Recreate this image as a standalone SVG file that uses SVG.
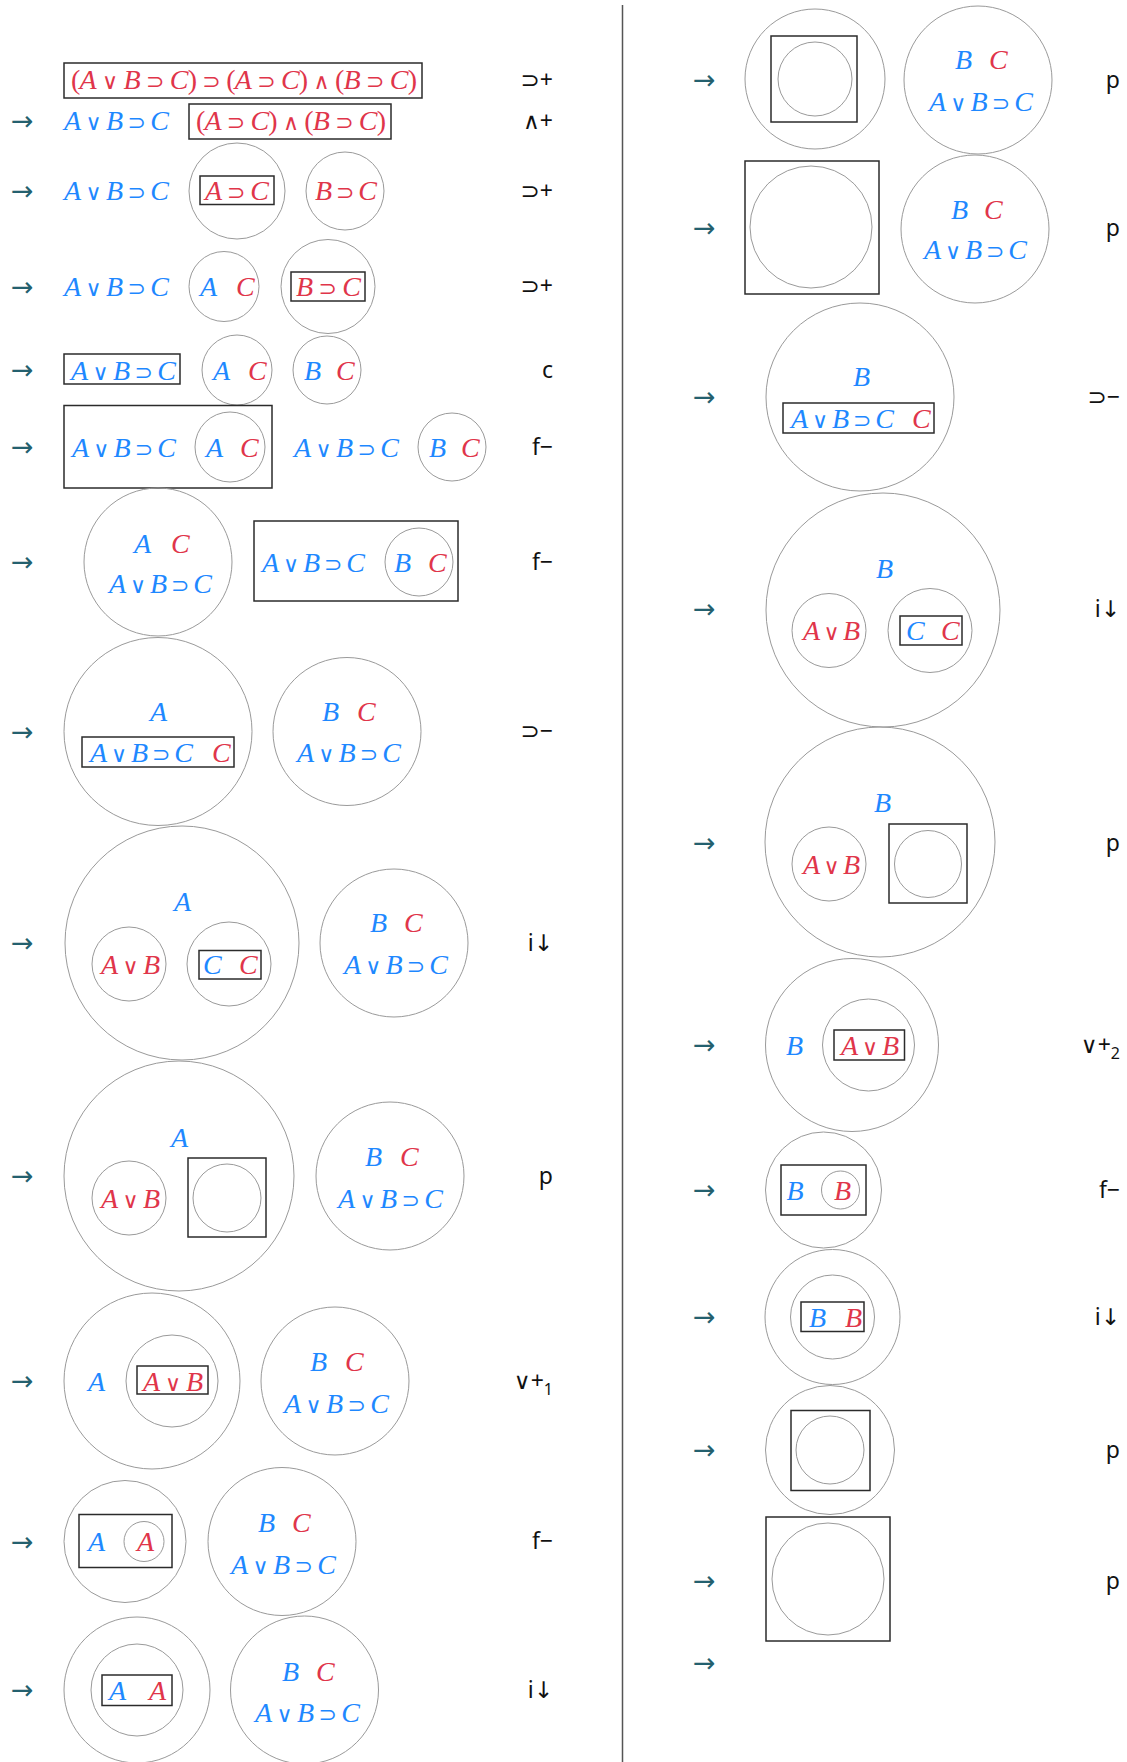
<svg xmlns="http://www.w3.org/2000/svg" width="1127" height="1762" viewBox="0 0 1127 1762">
<style>
.m{font-family:"Liberation Serif","DejaVu Serif",serif;font-style:italic;font-size:28px}
.o{font-family:"DejaVu Sans",sans-serif;font-style:normal;font-size:22px}
.u{font-style:normal}
.b{fill:#1E88FF}
.r{fill:#E0354A}
.c{fill:none;stroke:#9a9a9a;stroke-width:1}
.x{fill:none;stroke:#2b2b2b;stroke-width:1.5}
.ar{font-family:"DejaVu Sans",sans-serif;font-size:27px;fill:#24606e}
.lb{font-family:"Noto Sans","DejaVu Sans",sans-serif;font-size:23px;fill:#111}
.sub{font-size:16px}
</style>
<rect width="1127" height="1762" fill="#fff"/>
<g id="connectors">
<line x1="622.5" y1="5" x2="622.5" y2="1762" stroke="#555" stroke-width="1.5"/>
<g id="arrows">
<text class="ar" x="11" y="130">→</text>
<text class="ar" x="11" y="200">→</text>
<text class="ar" x="11" y="295.5">→</text>
<text class="ar" x="11" y="379">→</text>
<text class="ar" x="11" y="456">→</text>
<text class="ar" x="11" y="571">→</text>
<text class="ar" x="11" y="740.5">→</text>
<text class="ar" x="11" y="952">→</text>
<text class="ar" x="11" y="1185">→</text>
<text class="ar" x="11" y="1390">→</text>
<text class="ar" x="11" y="1550.5">→</text>
<text class="ar" x="11" y="1699">→</text>
<text class="ar" x="693" y="89">→</text>
<text class="ar" x="693" y="237">→</text>
<text class="ar" x="693" y="406">→</text>
<text class="ar" x="693" y="618">→</text>
<text class="ar" x="693" y="852">→</text>
<text class="ar" x="693" y="1054">→</text>
<text class="ar" x="693" y="1199">→</text>
<text class="ar" x="693" y="1326">→</text>
<text class="ar" x="693" y="1459">→</text>
<text class="ar" x="693" y="1590">→</text>
<text class="ar" x="693" y="1672">→</text>
</g>
</g>

<g id="labels">
<text class="lb" x="553" y="88" text-anchor="end">⊃+</text>
<text class="lb" x="553" y="129" text-anchor="end">∧+</text>
<text class="lb" x="553" y="199" text-anchor="end">⊃+</text>
<text class="lb" x="553" y="294" text-anchor="end">⊃+</text>
<text class="lb" x="553" y="378" text-anchor="end">c</text>
<text class="lb" x="553" y="455" text-anchor="end">f−</text>
<text class="lb" x="553" y="570" text-anchor="end">f−</text>
<text class="lb" x="553" y="739" text-anchor="end">⊃−</text>
<text class="lb" x="553" y="951" text-anchor="end">i↓</text>
<text class="lb" x="553" y="1184" text-anchor="end">p</text>
<text class="lb" x="553" y="1389" text-anchor="end">∨+<tspan class="sub" dy="6">1</tspan></text>
<text class="lb" x="553" y="1549" text-anchor="end">f−</text>
<text class="lb" x="553" y="1698" text-anchor="end">i↓</text>
<text class="lb" x="1120" y="88" text-anchor="end">p</text>
<text class="lb" x="1120" y="236" text-anchor="end">p</text>
<text class="lb" x="1120" y="405" text-anchor="end">⊃−</text>
<text class="lb" x="1120" y="617" text-anchor="end">i↓</text>
<text class="lb" x="1120" y="851" text-anchor="end">p</text>
<text class="lb" x="1120" y="1053" text-anchor="end">∨+<tspan class="sub" dy="6">2</tspan></text>
<text class="lb" x="1120" y="1198" text-anchor="end">f−</text>
<text class="lb" x="1120" y="1325" text-anchor="end">i↓</text>
<text class="lb" x="1120" y="1458" text-anchor="end">p</text>
<text class="lb" x="1120" y="1589" text-anchor="end">p</text>
</g>

<g id="L1">
<rect class="x" x="64" y="63" width="358" height="35"/>
<text class="m r" x="71" y="89" textLength="346" lengthAdjust="spacing"><tspan class="u">(</tspan>A<tspan class="o"> ∨ </tspan>B<tspan class="o"> ⊃ </tspan>C<tspan class="u">)</tspan><tspan class="o"> ⊃ </tspan><tspan class="u">(</tspan>A<tspan class="o"> ⊃ </tspan>C<tspan class="u">)</tspan><tspan class="o"> ∧ </tspan><tspan class="u">(</tspan>B<tspan class="o"> ⊃ </tspan>C<tspan class="u">)</tspan></text>
</g>

<g id="L2">
<text class="m b" x="64" y="130" textLength="105" lengthAdjust="spacing">A<tspan class="o"> ∨ </tspan>B<tspan class="o"> ⊃ </tspan>C</text>
<rect class="x" x="189" y="104" width="202" height="35"/>
<text class="m r" x="196" y="130" textLength="190" lengthAdjust="spacing"><tspan class="u">(</tspan>A<tspan class="o"> ⊃ </tspan>C<tspan class="u">)</tspan><tspan class="o"> ∧ </tspan><tspan class="u">(</tspan>B<tspan class="o"> ⊃ </tspan>C<tspan class="u">)</tspan></text>
</g>

<g id="L3">
<text class="m b" x="64" y="200" textLength="105" lengthAdjust="spacing">A<tspan class="o"> ∨ </tspan>B<tspan class="o"> ⊃ </tspan>C</text>
<circle class="c" cx="237" cy="191" r="48"/>
<rect class="x" x="200" y="176" width="74" height="28.5"/>
<text class="m r" x="205" y="200" textLength="64" lengthAdjust="spacing">A<tspan class="o"> ⊃ </tspan>C</text>
<circle class="c" cx="345" cy="191" r="39"/>
<text class="m r" x="315" y="200" textLength="62" lengthAdjust="spacing">B<tspan class="o"> ⊃ </tspan>C</text>
</g>

<g id="L4">
<text class="m b" x="64" y="296" textLength="105" lengthAdjust="spacing">A<tspan class="o"> ∨ </tspan>B<tspan class="o"> ⊃ </tspan>C</text>
<circle class="c" cx="224" cy="286.5" r="35"/>
<text class="m b" x="200" y="296">A</text>
<text class="m r" x="236" y="296">C</text>
<circle class="c" cx="328" cy="286.5" r="47"/>
<rect class="x" x="291" y="272" width="74" height="29"/>
<text class="m r" x="296" y="296" textLength="65" lengthAdjust="spacing">B<tspan class="o"> ⊃ </tspan>C</text>
</g>

<g id="L5">
<rect class="x" x="64" y="354" width="116" height="30"/>
<text class="m b" x="71" y="379.5" textLength="105" lengthAdjust="spacing">A<tspan class="o"> ∨ </tspan>B<tspan class="o"> ⊃ </tspan>C</text>
<circle class="c" cx="237" cy="370" r="35"/>
<text class="m b" x="213" y="379.5">A</text>
<text class="m r" x="248" y="379.5">C</text>
<circle class="c" cx="327" cy="370" r="34"/>
<text class="m b" x="304" y="379.5">B</text>
<text class="m r" x="336" y="379.5">C</text>
</g>

<g id="L6">
<rect class="x" x="64" y="405.5" width="208" height="82.5"/>
<text class="m b" x="72" y="456.5" textLength="104" lengthAdjust="spacing">A<tspan class="o"> ∨ </tspan>B<tspan class="o"> ⊃ </tspan>C</text>
<circle class="c" cx="230" cy="447" r="35"/>
<text class="m b" x="206" y="456.5">A</text>
<text class="m r" x="240" y="456.5">C</text>
<text class="m b" x="294" y="456.5" textLength="105" lengthAdjust="spacing">A<tspan class="o"> ∨ </tspan>B<tspan class="o"> ⊃ </tspan>C</text>
<circle class="c" cx="452" cy="447" r="34"/>
<text class="m b" x="429" y="456.5">B</text>
<text class="m r" x="461" y="456.5">C</text>
</g>

<g id="L7">
<circle class="c" cx="158" cy="562" r="74"/>
<text class="m b" x="134" y="552.5">A</text>
<text class="m r" x="171" y="552.5">C</text>
<text class="m b" x="109" y="592.5" textLength="103" lengthAdjust="spacing">A<tspan class="o"> ∨ </tspan>B<tspan class="o"> ⊃ </tspan>C</text>
<rect class="x" x="254" y="521" width="204" height="80"/>
<text class="m b" x="262" y="571.5" textLength="103" lengthAdjust="spacing">A<tspan class="o"> ∨ </tspan>B<tspan class="o"> ⊃ </tspan>C</text>
<circle class="c" cx="419" cy="562" r="34"/>
<text class="m b" x="394" y="571.5">B</text>
<text class="m r" x="428" y="571.5">C</text>
</g>

<g id="L8">
<circle class="c" cx="158" cy="731.5" r="94"/>
<text class="m b" x="150" y="720.5">A</text>
<rect class="x" x="82" y="737" width="152" height="30"/>
<text class="m b" x="90" y="761.5" textLength="103" lengthAdjust="spacing">A<tspan class="o"> ∨ </tspan>B<tspan class="o"> ⊃ </tspan>C</text>
<text class="m r" x="212" y="761.5">C</text>
<circle class="c" cx="347" cy="731.5" r="74"/>
<text class="m b" x="322" y="720.5">B</text>
<text class="m r" x="357" y="720.5">C</text>
<text class="m b" x="297" y="761.5" textLength="104" lengthAdjust="spacing">A<tspan class="o"> ∨ </tspan>B<tspan class="o"> ⊃ </tspan>C</text>
</g>

<g id="L9">
<circle class="c" cx="182" cy="943" r="117"/>
<text class="m b" x="174" y="910.5">A</text>
<circle class="c" cx="129" cy="964" r="37"/>
<text class="m r" x="101" y="973.5" textLength="59" lengthAdjust="spacing">A<tspan class="o"> ∨ </tspan>B</text>
<circle class="c" cx="229" cy="964" r="42"/>
<rect class="x" x="199" y="950.5" width="62" height="28.5"/>
<text class="m b" x="203" y="973.5">C</text>
<text class="m r" x="239" y="973.5">C</text>
<circle class="c" cx="394" cy="943" r="74"/>
<text class="m b" x="370" y="932">B</text>
<text class="m r" x="404" y="932">C</text>
<text class="m b" x="344" y="973.5" textLength="104" lengthAdjust="spacing">A<tspan class="o"> ∨ </tspan>B<tspan class="o"> ⊃ </tspan>C</text>
</g>

<g id="L10">
<circle class="c" cx="179" cy="1176" r="115"/>
<text class="m b" x="171" y="1146.5">A</text>
<circle class="c" cx="129" cy="1198" r="37"/>
<text class="m r" x="101" y="1207.5" textLength="59" lengthAdjust="spacing">A<tspan class="o"> ∨ </tspan>B</text>
<rect class="x" x="188" y="1158" width="78" height="79"/>
<circle class="c" cx="227" cy="1198" r="34"/>
<circle class="c" cx="390" cy="1176" r="74"/>
<text class="m b" x="365" y="1165.5">B</text>
<text class="m r" x="400" y="1165.5">C</text>
<text class="m b" x="338" y="1207.5" textLength="105" lengthAdjust="spacing">A<tspan class="o"> ∨ </tspan>B<tspan class="o"> ⊃ </tspan>C</text>
</g>

<g id="L11">
<circle class="c" cx="152" cy="1381" r="88"/>
<text class="m b" x="88" y="1390.5">A</text>
<circle class="c" cx="172" cy="1381" r="46"/>
<rect class="x" x="137" y="1366" width="71" height="28"/>
<text class="m r" x="143" y="1390.5" textLength="60" lengthAdjust="spacing">A<tspan class="o"> ∨ </tspan>B</text>
<circle class="c" cx="335" cy="1381" r="74"/>
<text class="m b" x="310" y="1370.5">B</text>
<text class="m r" x="345" y="1370.5">C</text>
<text class="m b" x="284" y="1412.5" textLength="105" lengthAdjust="spacing">A<tspan class="o"> ∨ </tspan>B<tspan class="o"> ⊃ </tspan>C</text>
</g>

<g id="L12">
<circle class="c" cx="125" cy="1541.5" r="61"/>
<rect class="x" x="79" y="1514.5" width="93" height="53"/>
<text class="m b" x="88" y="1551">A</text>
<circle class="c" cx="144" cy="1541.5" r="20"/>
<text class="m r" x="137" y="1551">A</text>
<circle class="c" cx="282" cy="1541.5" r="74"/>
<text class="m b" x="258" y="1532">B</text>
<text class="m r" x="292" y="1532">C</text>
<text class="m b" x="231" y="1573.5" textLength="105" lengthAdjust="spacing">A<tspan class="o"> ∨ </tspan>B<tspan class="o"> ⊃ </tspan>C</text>
</g>

<g id="L13">
<circle class="c" cx="137" cy="1690" r="73"/>
<circle class="c" cx="137" cy="1690" r="46"/>
<rect class="x" x="102" y="1675" width="70" height="30.5"/>
<text class="m b" x="109" y="1699.5">A</text>
<text class="m r" x="149" y="1699.5">A</text>
<circle class="c" cx="304.5" cy="1690" r="74"/>
<text class="m b" x="282" y="1680.5">B</text>
<text class="m r" x="316" y="1680.5">C</text>
<text class="m b" x="255" y="1721.5" textLength="105" lengthAdjust="spacing">A<tspan class="o"> ∨ </tspan>B<tspan class="o"> ⊃ </tspan>C</text>
</g>

<g id="R1">
<circle class="c" cx="815" cy="79" r="70"/>
<rect class="x" x="771" y="36" width="86" height="86"/>
<circle class="c" cx="815" cy="79" r="37"/>
<circle class="c" cx="978" cy="80" r="74"/>
<text class="m b" x="955" y="69">B</text>
<text class="m r" x="989" y="69">C</text>
<text class="m b" x="929" y="110.5" textLength="104" lengthAdjust="spacing">A<tspan class="o"> ∨ </tspan>B<tspan class="o"> ⊃ </tspan>C</text>
</g>

<g id="R2">
<rect class="x" x="745" y="161" width="134" height="133"/>
<circle class="c" cx="811" cy="227" r="61"/>
<circle class="c" cx="975" cy="229" r="74"/>
<text class="m b" x="951" y="218.5">B</text>
<text class="m r" x="984" y="218.5">C</text>
<text class="m b" x="924" y="259" textLength="103" lengthAdjust="spacing">A<tspan class="o"> ∨ </tspan>B<tspan class="o"> ⊃ </tspan>C</text>
</g>

<g id="R3">
<circle class="c" cx="860" cy="397" r="94"/>
<text class="m b" x="853" y="385.5">B</text>
<rect class="x" x="783" y="403" width="151" height="30"/>
<text class="m b" x="791" y="427.5" textLength="103" lengthAdjust="spacing">A<tspan class="o"> ∨ </tspan>B<tspan class="o"> ⊃ </tspan>C</text>
<text class="m r" x="912" y="427.5">C</text>
</g>

<g id="R4">
<circle class="c" cx="883" cy="610" r="117"/>
<text class="m b" x="876" y="578">B</text>
<circle class="c" cx="829" cy="630.5" r="37"/>
<text class="m r" x="803" y="640" textLength="57" lengthAdjust="spacing">A<tspan class="o"> ∨ </tspan>B</text>
<circle class="c" cx="930" cy="630.5" r="42"/>
<rect class="x" x="900" y="616" width="62" height="29"/>
<text class="m b" x="906" y="640">C</text>
<text class="m r" x="941" y="640">C</text>
</g>

<g id="R5">
<circle class="c" cx="880" cy="842" r="115"/>
<text class="m b" x="874" y="811.5">B</text>
<circle class="c" cx="829" cy="864" r="37"/>
<text class="m r" x="803" y="873.5" textLength="57" lengthAdjust="spacing">A<tspan class="o"> ∨ </tspan>B</text>
<rect class="x" x="889" y="824" width="78" height="79"/>
<circle class="c" cx="928" cy="864" r="33.5"/>
</g>

<g id="R6">
<circle class="c" cx="852" cy="1045" r="86.5"/>
<text class="m b" x="786" y="1054.5">B</text>
<circle class="c" cx="868.5" cy="1045" r="46"/>
<rect class="x" x="834" y="1030" width="70.5" height="30"/>
<text class="m r" x="841" y="1054.5" textLength="58" lengthAdjust="spacing">A<tspan class="o"> ∨ </tspan>B</text>
</g>

<g id="R7">
<circle class="c" cx="823.5" cy="1190" r="58"/>
<rect class="x" x="781" y="1165" width="85" height="50"/>
<text class="m b" x="786.5" y="1199.5">B</text>
<circle class="c" cx="840.5" cy="1190" r="19"/>
<text class="m r" x="834" y="1199.5">B</text>
</g>

<g id="R8">
<circle class="c" cx="832.5" cy="1317" r="67.5"/>
<circle class="c" cx="832.5" cy="1317" r="42"/>
<rect class="x" x="801" y="1302" width="63" height="29.5"/>
<text class="m b" x="809" y="1326.5">B</text>
<text class="m r" x="845" y="1326.5">B</text>
</g>

<g id="R9">
<circle class="c" cx="830" cy="1450" r="64.5"/>
<rect class="x" x="791" y="1410.5" width="79" height="80"/>
<circle class="c" cx="830" cy="1450" r="34"/>
</g>

<g id="R10">
<rect class="x" x="766" y="1517" width="124" height="124"/>
<circle class="c" cx="828" cy="1579" r="56"/>
</g>
</svg>
